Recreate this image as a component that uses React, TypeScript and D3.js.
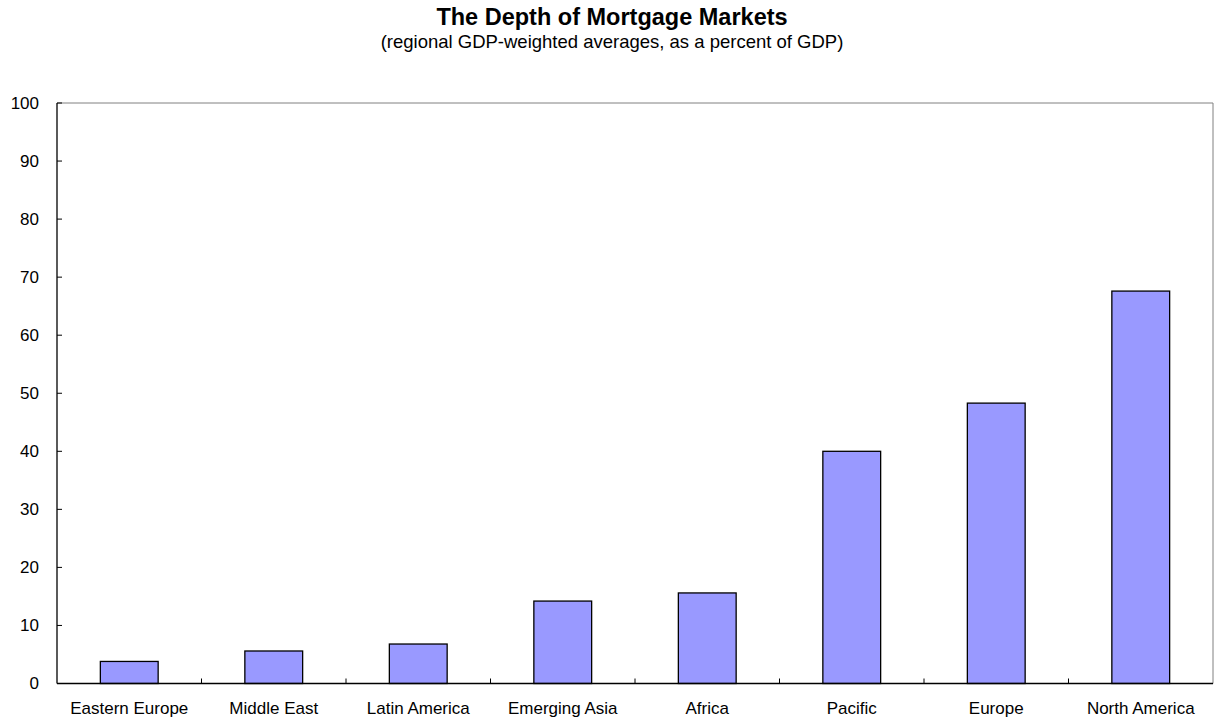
import * as d3 from 'd3';

const categories = ['Eastern Europe', 'Middle East', 'Latin America', 'Emerging Asia', 'Africa', 'Pacific', 'Europe', 'North America'];
const values = [3.8, 5.6, 6.8, 14.2, 15.6, 40.0, 48.3, 67.6];
const yTicks = [0, 10, 20, 30, 40, 50, 60, 70, 80, 90, 100];

const width = 1217;
const height = 721;
const margin = { left: 57, right: 4, top: 103, bottom: 37.5 };
const font = '"Liberation Sans", Arial, sans-serif';

export default function App() {
    const innerW = width - margin.left - margin.right;
    const innerH = height - margin.top - margin.bottom;

    const xScale = d3.scaleBand().domain(categories).range([0, innerW]).paddingInner(0).paddingOuter(0);
    const yScale = d3.scaleLinear().domain([0, 100]).range([innerH, 0]);
    const barW = xScale.bandwidth() * 0.4;

    return (
        <svg width={width} height={height} style={{ position: 'absolute', left: 0, top: 0 }} fontFamily={font}>
            <text x={612} y={25} textAnchor="middle" fontSize={23.5} fontWeight="bold">The Depth of Mortgage Markets</text>
            <text x={612} y={47.5} textAnchor="middle" fontSize={18.5}>(regional GDP-weighted averages, as a percent of GDP)</text>
            <g transform={`translate(${margin.left}, ${margin.top})`}>
                {/* plot frame */}
                <line x1={0} x2={innerW} y1={0} y2={0} stroke="#808080" strokeWidth={1} />
                <line x1={innerW} x2={innerW} y1={0} y2={innerH} stroke="#808080" strokeWidth={1} />

                {categories.map((c, i) => (
                    <rect
                        key={c}
                        x={xScale(c)! + (xScale.bandwidth() - barW) / 2}
                        y={yScale(values[i])}
                        width={barW}
                        height={innerH - yScale(values[i])}
                        fill="#9999FF"
                        stroke="#000"
                        strokeWidth={1.3}
                    />
                ))}

                {/* y axis */}
                <line x1={0} x2={0} y1={0} y2={innerH} stroke="#000" strokeWidth={1.3} />
                {yTicks.map(t => (
                    <g key={t} transform={`translate(0, ${yScale(t)})`}>
                        <line x1={0} x2={5} stroke="#000" />
                        <text x={-18} dy="0.35em" textAnchor="end" fontSize={17}>{t}</text>
                    </g>
                ))}

                {/* x axis */}
                <line x1={0} x2={innerW} y1={innerH} y2={innerH} stroke="#000" strokeWidth={1.3} />
                {categories.map((c, i) => (
                    <g key={c}>
                        {i > 0 && <line x1={xScale(c)!} x2={xScale(c)!} y1={innerH} y2={innerH - 5} stroke="#000" />}
                        <text x={xScale(c)! + xScale.bandwidth() / 2} y={innerH + 30} textAnchor="middle" fontSize={17}>{c}</text>
                    </g>
                ))}
            </g>
        </svg>
    );
}
